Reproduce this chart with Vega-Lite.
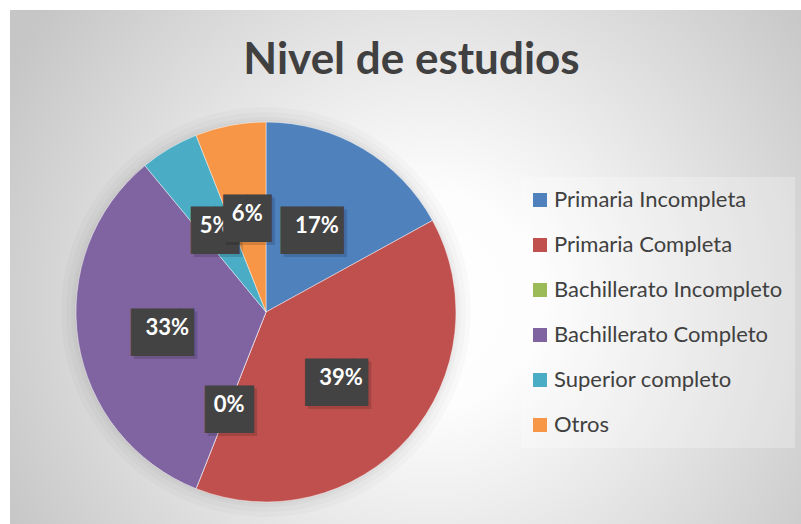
{
  "$schema": "https://vega.github.io/schema/vega-lite/v6.json",
  "padding": {"left": 10, "top": 10, "right": 0, "bottom": 0},
  "background": "#ffffff",
  "spacing": 0,
  "columns": 2,
  "title": {
    "text": "Nivel de estudios",
    "font": "Lato",
    "fontWeight": "bold",
    "fontSize": 44,
    "color": "#404040",
    "anchor": "middle",
    "frame": "bounds",
    "orient": "top",
    "baseline": "alphabetic",
    "offset": 0,
    "dx": 6,
    "dy": 108
  },
  "datasets": {
    "d": [
      {"cat": "Primaria Incompleta", "pct": 0.17, "orden": 1},
      {"cat": "Primaria Completa", "pct": 0.39, "orden": 2},
      {"cat": "Bachillerato Incompleto", "pct": 0.0, "orden": 3},
      {"cat": "Bachillerato Completo", "pct": 0.33, "orden": 4},
      {"cat": "Superior completo", "pct": 0.05, "orden": 5},
      {"cat": "Otros", "pct": 0.06, "orden": 6}
    ]
  },
  "concat": [
    {
      "width": 512,
      "height": 90,
      "view": {"stroke": null, "fill": {"gradient": "radial", "x1": 0.8203, "y1": 0.9785, "r1": 0, "x2": 0.8203, "y2": 0.9785, "r2": 0.9375,
        "stops": [{"offset": 0, "color": "#ffffff"}, {"offset": 0.22, "color": "#fdfdfd"}, {"offset": 1, "color": "#c6c6c6"}]}},
      "data": {"values": []},
      "mark": {"type": "point", "opacity": 0},
      "encoding": {}
    },
    {
      "width": 279,
      "height": 90,
      "view": {"stroke": null, "fill": {"gradient": "radial", "x1": -0.3297, "y1": 1.3781, "r1": 0, "x2": -0.3297, "y2": 1.3781, "r2": 1.7204,
        "stops": [{"offset": 0, "color": "#ffffff"}, {"offset": 0.22, "color": "#fdfdfd"}, {"offset": 1, "color": "#c6c6c6"}]}},
      "data": {"values": []},
      "mark": {"type": "point", "opacity": 0},
      "encoding": {}
    },
    {
      "width": 512,
      "height": 424,
      "view": {"stroke": null, "fill": {"gradient": "radial", "x1": 0.8203, "y1": 0.4766, "r1": 0, "x2": 0.8203, "y2": 0.4766, "r2": 0.9375,
        "stops": [{"offset": 0, "color": "#ffffff"}, {"offset": 0.22, "color": "#fdfdfd"}, {"offset": 1, "color": "#c6c6c6"}]}},
      "data": {"name": "d"},
      "layer": [
        {
          "transform": [{"aggregate": [{"op": "sum", "field": "pct", "as": "total"}]}],
          "mark": {"type": "arc", "outerRadius": 205, "fill": "#000000", "opacity": 0.018},
          "encoding": {"theta": {"field": "total", "type": "quantitative"}}
        },
        {
          "transform": [{"aggregate": [{"op": "sum", "field": "pct", "as": "total"}]}],
          "mark": {"type": "arc", "outerRadius": 200, "fill": "#000000", "opacity": 0.02},
          "encoding": {"theta": {"field": "total", "type": "quantitative"}}
        },
        {
          "transform": [{"aggregate": [{"op": "sum", "field": "pct", "as": "total"}]}],
          "mark": {"type": "arc", "outerRadius": 195, "fill": "#000000", "opacity": 0.025},
          "encoding": {"theta": {"field": "total", "type": "quantitative"}}
        },
        {
          "transform": [{"aggregate": [{"op": "sum", "field": "pct", "as": "total"}]}],
          "mark": {"type": "arc", "outerRadius": 192, "fill": "#000000", "opacity": 0.025},
          "encoding": {"theta": {"field": "total", "type": "quantitative"}}
        },
        {
          "mark": {"type": "arc", "outerRadius": 190, "stroke": "#ffffff", "strokeWidth": 0.75, "strokeOpacity": 0.6},
          "encoding": {
            "theta": {"field": "pct", "type": "quantitative", "stack": true},
            "order": {"field": "orden", "type": "quantitative"},
            "color": {
              "field": "cat",
              "type": "nominal",
              "scale": {
                "domain": ["Primaria Incompleta", "Primaria Completa", "Bachillerato Incompleto", "Bachillerato Completo", "Superior completo", "Otros"],
                "range": ["#4f81bd", "#c0504d", "#9bbb59", "#8064a2", "#4bacc6", "#f79646"]
              },
              "legend": {"orient": "none", "legendX": 511, "legendY": 167, "title": null}
            }
          }
        },
        {
          "mark": {"type": "text", "radius": 100, "font": "DejaVu Sans Mono", "fontSize": 40, "fill": "#000000", "dx": 3, "dy": 9},
          "encoding": {
            "theta": {"field": "pct", "type": "quantitative", "stack": true},
            "order": {"field": "orden", "type": "quantitative"},
            "text": {"condition": {"test": "datum.pct >= 0.1", "value": "██▋"}, "value": "██"},
            "opacity": {"condition": {"test": "datum.cat !== 'Otros'", "value": 0.14}, "value": 0}
          }
        },
        {
          "mark": {"type": "text", "radius": 100, "font": "DejaVu Sans Mono", "fontSize": 40, "fill": "#434343", "dy": 6},
          "encoding": {
            "theta": {"field": "pct", "type": "quantitative", "stack": true},
            "order": {"field": "orden", "type": "quantitative"},
            "text": {"condition": {"test": "datum.pct >= 0.1", "value": "██▋"}, "value": "██"},
            "opacity": {"condition": {"test": "datum.cat !== 'Otros'", "value": 1}, "value": 0}
          }
        },
        {
          "mark": {"type": "text", "radius": 100, "font": "Lato", "fontWeight": "bold", "fontSize": 22, "fill": "#ffffff"},
          "encoding": {
            "theta": {"field": "pct", "type": "quantitative", "stack": true},
            "order": {"field": "orden", "type": "quantitative"},
            "text": {"field": "pct", "type": "quantitative", "format": ".0%"},
            "opacity": {"condition": {"test": "datum.cat !== 'Otros'", "value": 1}, "value": 0}
          }
        },
        {
          "mark": {"type": "text", "radius": 100, "font": "DejaVu Sans Mono", "fontSize": 40, "fill": "#000000", "dx": 3, "dy": 9},
          "encoding": {
            "theta": {"field": "pct", "type": "quantitative", "stack": true},
            "order": {"field": "orden", "type": "quantitative"},
            "text": {"condition": {"test": "datum.pct >= 0.1", "value": "██▋"}, "value": "██"},
            "opacity": {"condition": {"test": "datum.cat === 'Otros'", "value": 0.14}, "value": 0}
          }
        },
        {
          "mark": {"type": "text", "radius": 100, "font": "DejaVu Sans Mono", "fontSize": 40, "fill": "#434343", "dy": 6},
          "encoding": {
            "theta": {"field": "pct", "type": "quantitative", "stack": true},
            "order": {"field": "orden", "type": "quantitative"},
            "text": {"condition": {"test": "datum.pct >= 0.1", "value": "██▋"}, "value": "██"},
            "opacity": {"condition": {"test": "datum.cat === 'Otros'", "value": 1}, "value": 0}
          }
        },
        {
          "mark": {"type": "text", "radius": 100, "font": "Lato", "fontWeight": "bold", "fontSize": 22, "fill": "#ffffff"},
          "encoding": {
            "theta": {"field": "pct", "type": "quantitative", "stack": true},
            "order": {"field": "orden", "type": "quantitative"},
            "text": {"field": "pct", "type": "quantitative", "format": ".0%"},
            "opacity": {"condition": {"test": "datum.cat === 'Otros'", "value": 1}, "value": 0}
          }
        }
      ]
    },
    {
      "width": 279,
      "height": 424,
      "view": {"stroke": null, "fill": {"gradient": "radial", "x1": -0.046, "y1": 0.4717, "r1": 0, "x2": -0.046, "y2": 0.4717, "r2": 1.1321,
        "stops": [{"offset": 0, "color": "#ffffff"}, {"offset": 0.22, "color": "#fdfdfd"}, {"offset": 1, "color": "#c6c6c6"}]}},
      "data": {"values": []},
      "mark": {"type": "point", "opacity": 0},
      "encoding": {}
    }
  ],
  "config": {
    "view": {"stroke": null},
    "concat": {"spacing": 0},
    "legend": {
      "symbolType": "square",
      "symbolSize": 196,
      "symbolStrokeWidth": 0,
      "symbolOpacity": 1,
      "symbolOffset": -4,
      "labelFont": "Lato",
      "labelFontSize": 22,
      "labelColor": "#404040",
      "labelLimit": 320,
      "labelOffset": 3,
      "rowPadding": 23,
      "padding": 12,
      "fillColor": "rgba(255,255,255,0.25)",
      "strokeColor": null
    }
  }
}
